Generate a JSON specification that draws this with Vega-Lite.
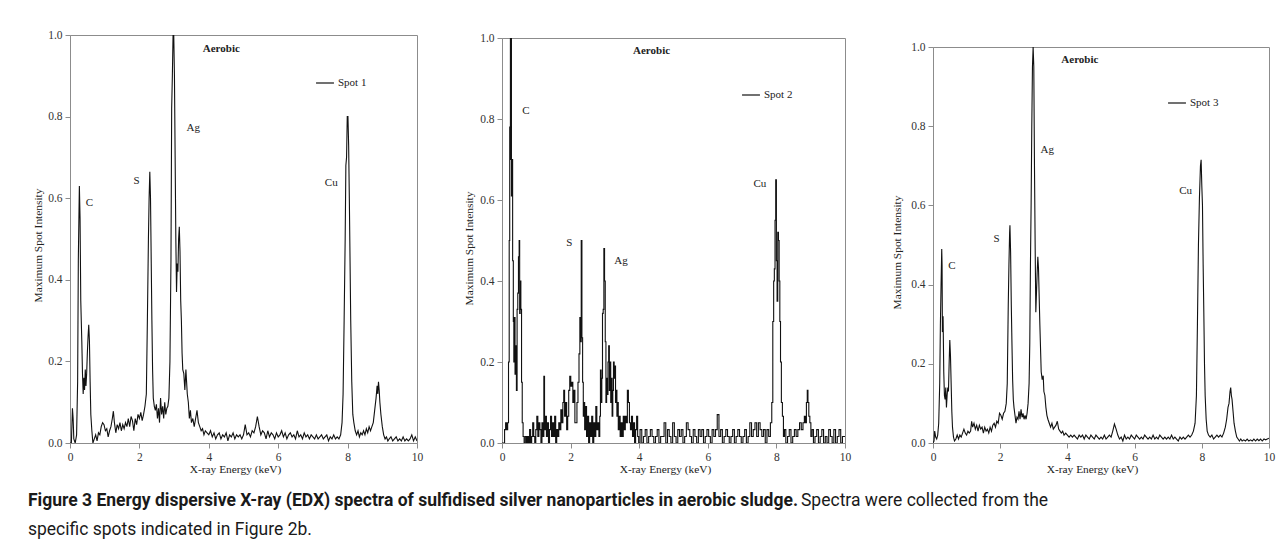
{
"$schema":"https://vega.github.io/schema/vega-lite/v6.json",
"background":"white",
"padding":{"left":27,"top":27,"right":3,"bottom":0},
"config":{
"view":{"stroke":"#8c8c8c","strokeWidth":1},
"axis":{"labelFont":"Liberation Serif","titleFont":"Liberation Serif","labelFontSize":11.5,"titleFontSize":11.4,"titleFontWeight":"normal","labelColor":"#333","titleColor":"#222","domainColor":"#8c8c8c","tickColor":"#8c8c8c","grid":false,"tickSize":5,"labelPadding":3,"labelFlush":false},
"axisX":{"titlePadding":1,"labelPadding":3},
"legend":{"symbolType":"stroke","symbolStrokeWidth":1.2,"symbolSize":320,"labelFont":"Liberation Serif","labelFontSize":11,"labelColor":"#222","padding":0,"labelOffset":3,"title":null}
},
"datasets":{
"labels":[
{"spot":"Spot 1","kind":"element","kev":0.56,"val":0.588,"label":"C"},
{"spot":"Spot 1","kind":"element","kev":1.92,"val":0.643,"label":"S"},
{"spot":"Spot 1","kind":"element","kev":3.55,"val":0.773,"label":"Ag"},
{"spot":"Spot 1","kind":"element","kev":7.53,"val":0.637,"label":"Cu"},
{"spot":"Spot 1","kind":"condition","kev":4.36,"val":0.966,"label":"Aerobic"},
{"spot":"Spot 2","kind":"element","kev":0.70,"val":0.819,"label":"C"},
{"spot":"Spot 2","kind":"element","kev":1.96,"val":0.493,"label":"S"},
{"spot":"Spot 2","kind":"element","kev":3.47,"val":0.449,"label":"Ag"},
{"spot":"Spot 2","kind":"element","kev":7.52,"val":0.639,"label":"Cu"},
{"spot":"Spot 2","kind":"condition","kev":4.36,"val":0.967,"label":"Aerobic"},
{"spot":"Spot 3","kind":"element","kev":0.56,"val":0.448,"label":"C"},
{"spot":"Spot 3","kind":"element","kev":1.89,"val":0.514,"label":"S"},
{"spot":"Spot 3","kind":"element","kev":3.40,"val":0.739,"label":"Ag"},
{"spot":"Spot 3","kind":"element","kev":7.52,"val":0.637,"label":"Cu"},
{"spot":"Spot 3","kind":"condition","kev":4.37,"val":0.966,"label":"Aerobic"}
],
"caption":[
{"part":"bold","text":"Figure 3 Energy dispersive X-ray (EDX) spectra of sulfidised silver nanoparticles in aerobic sludge."},
{"part":"normal","text":"Spectra were collected from the"},
{"part":"normal2","text":"specific spots indicated in Figure 2b."}
],
"spectra":[
{"spot":"Spot 1","kev":0.00,"val":0.0},{"spot":"Spot 1","kev":0.04,"val":0.0},{"spot":"Spot 1","kev":0.07,"val":0.085},{"spot":"Spot 1","kev":0.09,"val":0.06},{"spot":"Spot 1","kev":0.11,"val":0.01},{"spot":"Spot 1","kev":0.15,"val":0.0},{"spot":"Spot 1","kev":0.19,"val":0.02},{"spot":"Spot 1","kev":0.22,"val":0.15},{"spot":"Spot 1","kev":0.24,"val":0.45},{"spot":"Spot 1","kev":0.26,"val":0.57},{"spot":"Spot 1","kev":0.27,"val":0.63},{"spot":"Spot 1","kev":0.29,"val":0.55},{"spot":"Spot 1","kev":0.31,"val":0.35},{"spot":"Spot 1","kev":0.34,"val":0.25},{"spot":"Spot 1","kev":0.36,"val":0.17},{"spot":"Spot 1","kev":0.38,"val":0.12},{"spot":"Spot 1","kev":0.40,"val":0.16},{"spot":"Spot 1","kev":0.42,"val":0.13},{"spot":"Spot 1","kev":0.44,"val":0.18},{"spot":"Spot 1","kev":0.46,"val":0.14},{"spot":"Spot 1","kev":0.48,"val":0.17},{"spot":"Spot 1","kev":0.50,"val":0.22},{"spot":"Spot 1","kev":0.52,"val":0.26},{"spot":"Spot 1","kev":0.54,"val":0.29},{"spot":"Spot 1","kev":0.56,"val":0.25},{"spot":"Spot 1","kev":0.58,"val":0.15},{"spot":"Spot 1","kev":0.60,"val":0.07},{"spot":"Spot 1","kev":0.63,"val":0.03},{"spot":"Spot 1","kev":0.66,"val":0.0},{"spot":"Spot 1","kev":0.70,"val":0.01},{"spot":"Spot 1","kev":0.74,"val":0.02},{"spot":"Spot 1","kev":0.78,"val":0.005},{"spot":"Spot 1","kev":0.82,"val":0.025},{"spot":"Spot 1","kev":0.86,"val":0.02},{"spot":"Spot 1","kev":0.90,"val":0.04},{"spot":"Spot 1","kev":0.94,"val":0.05},{"spot":"Spot 1","kev":0.98,"val":0.045},{"spot":"Spot 1","kev":1.02,"val":0.03},{"spot":"Spot 1","kev":1.06,"val":0.035},{"spot":"Spot 1","kev":1.10,"val":0.015},{"spot":"Spot 1","kev":1.14,"val":0.03},{"spot":"Spot 1","kev":1.18,"val":0.04},{"spot":"Spot 1","kev":1.22,"val":0.06},{"spot":"Spot 1","kev":1.25,"val":0.078},{"spot":"Spot 1","kev":1.28,"val":0.05},{"spot":"Spot 1","kev":1.32,"val":0.025},{"spot":"Spot 1","kev":1.36,"val":0.045},{"spot":"Spot 1","kev":1.40,"val":0.035},{"spot":"Spot 1","kev":1.44,"val":0.05},{"spot":"Spot 1","kev":1.48,"val":0.03},{"spot":"Spot 1","kev":1.52,"val":0.045},{"spot":"Spot 1","kev":1.56,"val":0.035},{"spot":"Spot 1","kev":1.60,"val":0.05},{"spot":"Spot 1","kev":1.64,"val":0.04},{"spot":"Spot 1","kev":1.68,"val":0.06},{"spot":"Spot 1","kev":1.72,"val":0.04},{"spot":"Spot 1","kev":1.76,"val":0.065},{"spot":"Spot 1","kev":1.80,"val":0.055},{"spot":"Spot 1","kev":1.84,"val":0.03},{"spot":"Spot 1","kev":1.88,"val":0.06},{"spot":"Spot 1","kev":1.92,"val":0.045},{"spot":"Spot 1","kev":1.96,"val":0.07},{"spot":"Spot 1","kev":2.00,"val":0.06},{"spot":"Spot 1","kev":2.04,"val":0.075},{"spot":"Spot 1","kev":2.08,"val":0.055},{"spot":"Spot 1","kev":2.12,"val":0.07},{"spot":"Spot 1","kev":2.16,"val":0.09},{"spot":"Spot 1","kev":2.20,"val":0.12},{"spot":"Spot 1","kev":2.23,"val":0.3},{"spot":"Spot 1","kev":2.26,"val":0.5},{"spot":"Spot 1","kev":2.28,"val":0.6},{"spot":"Spot 1","kev":2.30,"val":0.665},{"spot":"Spot 1","kev":2.32,"val":0.6},{"spot":"Spot 1","kev":2.34,"val":0.45},{"spot":"Spot 1","kev":2.36,"val":0.3},{"spot":"Spot 1","kev":2.38,"val":0.18},{"spot":"Spot 1","kev":2.40,"val":0.11},{"spot":"Spot 1","kev":2.43,"val":0.09},{"spot":"Spot 1","kev":2.46,"val":0.08},{"spot":"Spot 1","kev":2.49,"val":0.095},{"spot":"Spot 1","kev":2.52,"val":0.06},{"spot":"Spot 1","kev":2.55,"val":0.085},{"spot":"Spot 1","kev":2.58,"val":0.05},{"spot":"Spot 1","kev":2.61,"val":0.11},{"spot":"Spot 1","kev":2.64,"val":0.07},{"spot":"Spot 1","kev":2.67,"val":0.09},{"spot":"Spot 1","kev":2.70,"val":0.06},{"spot":"Spot 1","kev":2.73,"val":0.1},{"spot":"Spot 1","kev":2.76,"val":0.07},{"spot":"Spot 1","kev":2.79,"val":0.085},{"spot":"Spot 1","kev":2.82,"val":0.09},{"spot":"Spot 1","kev":2.85,"val":0.11},{"spot":"Spot 1","kev":2.88,"val":0.2},{"spot":"Spot 1","kev":2.91,"val":0.45},{"spot":"Spot 1","kev":2.93,"val":0.82},{"spot":"Spot 1","kev":2.95,"val":0.9},{"spot":"Spot 1","kev":2.97,"val":1.0},{"spot":"Spot 1","kev":2.99,"val":1.0},{"spot":"Spot 1","kev":3.01,"val":0.9},{"spot":"Spot 1","kev":3.03,"val":0.7},{"spot":"Spot 1","kev":3.05,"val":0.5},{"spot":"Spot 1","kev":3.07,"val":0.37},{"spot":"Spot 1","kev":3.09,"val":0.44},{"spot":"Spot 1","kev":3.11,"val":0.42},{"spot":"Spot 1","kev":3.13,"val":0.5},{"spot":"Spot 1","kev":3.15,"val":0.53},{"spot":"Spot 1","kev":3.17,"val":0.47},{"spot":"Spot 1","kev":3.19,"val":0.35},{"spot":"Spot 1","kev":3.21,"val":0.3},{"spot":"Spot 1","kev":3.23,"val":0.22},{"spot":"Spot 1","kev":3.25,"val":0.18},{"spot":"Spot 1","kev":3.28,"val":0.17},{"spot":"Spot 1","kev":3.31,"val":0.13},{"spot":"Spot 1","kev":3.34,"val":0.18},{"spot":"Spot 1","kev":3.36,"val":0.15},{"spot":"Spot 1","kev":3.38,"val":0.12},{"spot":"Spot 1","kev":3.41,"val":0.1},{"spot":"Spot 1","kev":3.44,"val":0.06},{"spot":"Spot 1","kev":3.47,"val":0.08},{"spot":"Spot 1","kev":3.50,"val":0.05},{"spot":"Spot 1","kev":3.54,"val":0.06},{"spot":"Spot 1","kev":3.58,"val":0.04},{"spot":"Spot 1","kev":3.62,"val":0.06},{"spot":"Spot 1","kev":3.66,"val":0.08},{"spot":"Spot 1","kev":3.70,"val":0.05},{"spot":"Spot 1","kev":3.74,"val":0.04},{"spot":"Spot 1","kev":3.78,"val":0.03},{"spot":"Spot 1","kev":3.82,"val":0.035},{"spot":"Spot 1","kev":3.86,"val":0.02},{"spot":"Spot 1","kev":3.90,"val":0.03},{"spot":"Spot 1","kev":3.95,"val":0.025},{"spot":"Spot 1","kev":4.00,"val":0.02},{"spot":"Spot 1","kev":4.05,"val":0.03},{"spot":"Spot 1","kev":4.10,"val":0.015},{"spot":"Spot 1","kev":4.15,"val":0.025},{"spot":"Spot 1","kev":4.20,"val":0.01},{"spot":"Spot 1","kev":4.25,"val":0.02},{"spot":"Spot 1","kev":4.30,"val":0.025},{"spot":"Spot 1","kev":4.35,"val":0.01},{"spot":"Spot 1","kev":4.40,"val":0.02},{"spot":"Spot 1","kev":4.45,"val":0.015},{"spot":"Spot 1","kev":4.50,"val":0.025},{"spot":"Spot 1","kev":4.55,"val":0.005},{"spot":"Spot 1","kev":4.60,"val":0.02},{"spot":"Spot 1","kev":4.65,"val":0.015},{"spot":"Spot 1","kev":4.70,"val":0.025},{"spot":"Spot 1","kev":4.75,"val":0.01},{"spot":"Spot 1","kev":4.80,"val":0.02},{"spot":"Spot 1","kev":4.85,"val":0.015},{"spot":"Spot 1","kev":4.90,"val":0.02},{"spot":"Spot 1","kev":4.95,"val":0.01},{"spot":"Spot 1","kev":5.00,"val":0.02},{"spot":"Spot 1","kev":5.05,"val":0.045},{"spot":"Spot 1","kev":5.10,"val":0.02},{"spot":"Spot 1","kev":5.15,"val":0.025},{"spot":"Spot 1","kev":5.20,"val":0.015},{"spot":"Spot 1","kev":5.25,"val":0.03},{"spot":"Spot 1","kev":5.30,"val":0.025},{"spot":"Spot 1","kev":5.35,"val":0.04},{"spot":"Spot 1","kev":5.40,"val":0.065},{"spot":"Spot 1","kev":5.45,"val":0.04},{"spot":"Spot 1","kev":5.50,"val":0.02},{"spot":"Spot 1","kev":5.55,"val":0.03},{"spot":"Spot 1","kev":5.60,"val":0.025},{"spot":"Spot 1","kev":5.65,"val":0.01},{"spot":"Spot 1","kev":5.70,"val":0.03},{"spot":"Spot 1","kev":5.75,"val":0.015},{"spot":"Spot 1","kev":5.80,"val":0.025},{"spot":"Spot 1","kev":5.85,"val":0.02},{"spot":"Spot 1","kev":5.90,"val":0.01},{"spot":"Spot 1","kev":5.95,"val":0.025},{"spot":"Spot 1","kev":6.00,"val":0.015},{"spot":"Spot 1","kev":6.05,"val":0.02},{"spot":"Spot 1","kev":6.10,"val":0.03},{"spot":"Spot 1","kev":6.15,"val":0.015},{"spot":"Spot 1","kev":6.20,"val":0.025},{"spot":"Spot 1","kev":6.25,"val":0.01},{"spot":"Spot 1","kev":6.30,"val":0.02},{"spot":"Spot 1","kev":6.35,"val":0.025},{"spot":"Spot 1","kev":6.40,"val":0.015},{"spot":"Spot 1","kev":6.45,"val":0.02},{"spot":"Spot 1","kev":6.50,"val":0.01},{"spot":"Spot 1","kev":6.55,"val":0.03},{"spot":"Spot 1","kev":6.60,"val":0.015},{"spot":"Spot 1","kev":6.65,"val":0.02},{"spot":"Spot 1","kev":6.70,"val":0.01},{"spot":"Spot 1","kev":6.75,"val":0.025},{"spot":"Spot 1","kev":6.80,"val":0.015},{"spot":"Spot 1","kev":6.85,"val":0.02},{"spot":"Spot 1","kev":6.90,"val":0.01},{"spot":"Spot 1","kev":6.95,"val":0.02},{"spot":"Spot 1","kev":7.00,"val":0.015},{"spot":"Spot 1","kev":7.05,"val":0.01},{"spot":"Spot 1","kev":7.10,"val":0.02},{"spot":"Spot 1","kev":7.15,"val":0.01},{"spot":"Spot 1","kev":7.20,"val":0.015},{"spot":"Spot 1","kev":7.25,"val":0.02},{"spot":"Spot 1","kev":7.30,"val":0.01},{"spot":"Spot 1","kev":7.35,"val":0.015},{"spot":"Spot 1","kev":7.40,"val":0.02},{"spot":"Spot 1","kev":7.45,"val":0.005},{"spot":"Spot 1","kev":7.50,"val":0.015},{"spot":"Spot 1","kev":7.55,"val":0.01},{"spot":"Spot 1","kev":7.60,"val":0.02},{"spot":"Spot 1","kev":7.65,"val":0.01},{"spot":"Spot 1","kev":7.70,"val":0.015},{"spot":"Spot 1","kev":7.75,"val":0.01},{"spot":"Spot 1","kev":7.80,"val":0.02},{"spot":"Spot 1","kev":7.84,"val":0.05},{"spot":"Spot 1","kev":7.87,"val":0.12},{"spot":"Spot 1","kev":7.90,"val":0.3},{"spot":"Spot 1","kev":7.93,"val":0.5},{"spot":"Spot 1","kev":7.95,"val":0.68},{"spot":"Spot 1","kev":7.97,"val":0.7},{"spot":"Spot 1","kev":7.99,"val":0.8},{"spot":"Spot 1","kev":8.01,"val":0.8},{"spot":"Spot 1","kev":8.03,"val":0.73},{"spot":"Spot 1","kev":8.05,"val":0.6},{"spot":"Spot 1","kev":8.07,"val":0.45},{"spot":"Spot 1","kev":8.09,"val":0.3},{"spot":"Spot 1","kev":8.12,"val":0.15},{"spot":"Spot 1","kev":8.15,"val":0.07},{"spot":"Spot 1","kev":8.18,"val":0.05},{"spot":"Spot 1","kev":8.22,"val":0.03},{"spot":"Spot 1","kev":8.26,"val":0.02},{"spot":"Spot 1","kev":8.30,"val":0.03},{"spot":"Spot 1","kev":8.34,"val":0.015},{"spot":"Spot 1","kev":8.38,"val":0.025},{"spot":"Spot 1","kev":8.42,"val":0.02},{"spot":"Spot 1","kev":8.46,"val":0.03},{"spot":"Spot 1","kev":8.50,"val":0.02},{"spot":"Spot 1","kev":8.54,"val":0.035},{"spot":"Spot 1","kev":8.58,"val":0.025},{"spot":"Spot 1","kev":8.62,"val":0.04},{"spot":"Spot 1","kev":8.66,"val":0.03},{"spot":"Spot 1","kev":8.70,"val":0.04},{"spot":"Spot 1","kev":8.74,"val":0.05},{"spot":"Spot 1","kev":8.78,"val":0.08},{"spot":"Spot 1","kev":8.82,"val":0.11},{"spot":"Spot 1","kev":8.85,"val":0.14},{"spot":"Spot 1","kev":8.87,"val":0.12},{"spot":"Spot 1","kev":8.89,"val":0.15},{"spot":"Spot 1","kev":8.91,"val":0.13},{"spot":"Spot 1","kev":8.93,"val":0.1},{"spot":"Spot 1","kev":8.96,"val":0.07},{"spot":"Spot 1","kev":9.00,"val":0.04},{"spot":"Spot 1","kev":9.04,"val":0.02},{"spot":"Spot 1","kev":9.08,"val":0.01},{"spot":"Spot 1","kev":9.12,"val":0.015},{"spot":"Spot 1","kev":9.16,"val":0.005},{"spot":"Spot 1","kev":9.20,"val":0.01},{"spot":"Spot 1","kev":9.25,"val":0.015},{"spot":"Spot 1","kev":9.30,"val":0.005},{"spot":"Spot 1","kev":9.35,"val":0.01},{"spot":"Spot 1","kev":9.40,"val":0.015},{"spot":"Spot 1","kev":9.45,"val":0.005},{"spot":"Spot 1","kev":9.50,"val":0.01},{"spot":"Spot 1","kev":9.55,"val":0.005},{"spot":"Spot 1","kev":9.60,"val":0.015},{"spot":"Spot 1","kev":9.65,"val":0.005},{"spot":"Spot 1","kev":9.70,"val":0.01},{"spot":"Spot 1","kev":9.75,"val":0.005},{"spot":"Spot 1","kev":9.80,"val":0.01},{"spot":"Spot 1","kev":9.85,"val":0.02},{"spot":"Spot 1","kev":9.90,"val":0.005},{"spot":"Spot 1","kev":9.95,"val":0.015},{"spot":"Spot 1","kev":10.00,"val":0.005},
{"spot":"Spot 2","kev":0.00,"val":0},{"spot":"Spot 2","kev":0.06,"val":0},{"spot":"Spot 2","kev":0.09,"val":0.033},{"spot":"Spot 2","kev":0.12,"val":0.05},{"spot":"Spot 2","kev":0.15,"val":0.033},{"spot":"Spot 2","kev":0.18,"val":0.05},{"spot":"Spot 2","kev":0.20,"val":0.2},{"spot":"Spot 2","kev":0.22,"val":0.5},{"spot":"Spot 2","kev":0.23,"val":0.78},{"spot":"Spot 2","kev":0.24,"val":0.7},{"spot":"Spot 2","kev":0.25,"val":1.0},{"spot":"Spot 2","kev":0.27,"val":1.0},{"spot":"Spot 2","kev":0.28,"val":0.61},{"spot":"Spot 2","kev":0.30,"val":0.7},{"spot":"Spot 2","kev":0.32,"val":0.45},{"spot":"Spot 2","kev":0.34,"val":0.3},{"spot":"Spot 2","kev":0.35,"val":0.2},{"spot":"Spot 2","kev":0.37,"val":0.31},{"spot":"Spot 2","kev":0.39,"val":0.17},{"spot":"Spot 2","kev":0.41,"val":0.24},{"spot":"Spot 2","kev":0.43,"val":0.13},{"spot":"Spot 2","kev":0.45,"val":0.33},{"spot":"Spot 2","kev":0.47,"val":0.37},{"spot":"Spot 2","kev":0.49,"val":0.46},{"spot":"Spot 2","kev":0.51,"val":0.5},{"spot":"Spot 2","kev":0.52,"val":0.32},{"spot":"Spot 2","kev":0.54,"val":0.4},{"spot":"Spot 2","kev":0.56,"val":0.33},{"spot":"Spot 2","kev":0.58,"val":0.15},{"spot":"Spot 2","kev":0.60,"val":0.05},{"spot":"Spot 2","kev":0.63,"val":0.016},{"spot":"Spot 2","kev":0.66,"val":0},{"spot":"Spot 2","kev":0.70,"val":0.016},{"spot":"Spot 2","kev":0.73,"val":0},{"spot":"Spot 2","kev":0.76,"val":0.016},{"spot":"Spot 2","kev":0.79,"val":0},{"spot":"Spot 2","kev":0.82,"val":0.033},{"spot":"Spot 2","kev":0.85,"val":0},{"spot":"Spot 2","kev":0.88,"val":0.016},{"spot":"Spot 2","kev":0.91,"val":0.05},{"spot":"Spot 2","kev":0.94,"val":0.016},{"spot":"Spot 2","kev":0.97,"val":0},{"spot":"Spot 2","kev":1.00,"val":0.033},{"spot":"Spot 2","kev":1.03,"val":0.066},{"spot":"Spot 2","kev":1.06,"val":0.016},{"spot":"Spot 2","kev":1.09,"val":0.05},{"spot":"Spot 2","kev":1.12,"val":0.033},{"spot":"Spot 2","kev":1.15,"val":0},{"spot":"Spot 2","kev":1.18,"val":0.05},{"spot":"Spot 2","kev":1.21,"val":0.016},{"spot":"Spot 2","kev":1.23,"val":0.165},{"spot":"Spot 2","kev":1.25,"val":0.033},{"spot":"Spot 2","kev":1.28,"val":0.066},{"spot":"Spot 2","kev":1.31,"val":0.016},{"spot":"Spot 2","kev":1.34,"val":0.05},{"spot":"Spot 2","kev":1.37,"val":0},{"spot":"Spot 2","kev":1.40,"val":0.033},{"spot":"Spot 2","kev":1.43,"val":0.066},{"spot":"Spot 2","kev":1.46,"val":0.016},{"spot":"Spot 2","kev":1.49,"val":0.05},{"spot":"Spot 2","kev":1.52,"val":0.016},{"spot":"Spot 2","kev":1.55,"val":0.066},{"spot":"Spot 2","kev":1.58,"val":0},{"spot":"Spot 2","kev":1.61,"val":0.033},{"spot":"Spot 2","kev":1.64,"val":0.016},{"spot":"Spot 2","kev":1.67,"val":0.05},{"spot":"Spot 2","kev":1.70,"val":0.033},{"spot":"Spot 2","kev":1.73,"val":0.082},{"spot":"Spot 2","kev":1.76,"val":0.05},{"spot":"Spot 2","kev":1.79,"val":0.1},{"spot":"Spot 2","kev":1.81,"val":0.13},{"spot":"Spot 2","kev":1.84,"val":0.066},{"spot":"Spot 2","kev":1.87,"val":0.1},{"spot":"Spot 2","kev":1.90,"val":0.033},{"spot":"Spot 2","kev":1.93,"val":0.066},{"spot":"Spot 2","kev":1.96,"val":0.13},{"spot":"Spot 2","kev":1.99,"val":0.165},{"spot":"Spot 2","kev":2.02,"val":0.14},{"spot":"Spot 2","kev":2.05,"val":0.15},{"spot":"Spot 2","kev":2.08,"val":0.1},{"spot":"Spot 2","kev":2.11,"val":0.13},{"spot":"Spot 2","kev":2.14,"val":0.05},{"spot":"Spot 2","kev":2.17,"val":0.05},{"spot":"Spot 2","kev":2.20,"val":0.1},{"spot":"Spot 2","kev":2.23,"val":0.15},{"spot":"Spot 2","kev":2.26,"val":0.22},{"spot":"Spot 2","kev":2.28,"val":0.31},{"spot":"Spot 2","kev":2.30,"val":0.25},{"spot":"Spot 2","kev":2.32,"val":0.5},{"spot":"Spot 2","kev":2.34,"val":0.26},{"spot":"Spot 2","kev":2.36,"val":0.15},{"spot":"Spot 2","kev":2.38,"val":0.066},{"spot":"Spot 2","kev":2.40,"val":0.1},{"spot":"Spot 2","kev":2.42,"val":0.033},{"spot":"Spot 2","kev":2.45,"val":0.09},{"spot":"Spot 2","kev":2.48,"val":0.016},{"spot":"Spot 2","kev":2.51,"val":0.066},{"spot":"Spot 2","kev":2.54,"val":0},{"spot":"Spot 2","kev":2.57,"val":0.05},{"spot":"Spot 2","kev":2.60,"val":0.016},{"spot":"Spot 2","kev":2.63,"val":0.066},{"spot":"Spot 2","kev":2.66,"val":0},{"spot":"Spot 2","kev":2.69,"val":0.05},{"spot":"Spot 2","kev":2.72,"val":0.016},{"spot":"Spot 2","kev":2.75,"val":0.09},{"spot":"Spot 2","kev":2.78,"val":0.033},{"spot":"Spot 2","kev":2.81,"val":0.05},{"spot":"Spot 2","kev":2.84,"val":0.016},{"spot":"Spot 2","kev":2.86,"val":0.066},{"spot":"Spot 2","kev":2.88,"val":0.18},{"spot":"Spot 2","kev":2.90,"val":0.1},{"spot":"Spot 2","kev":2.92,"val":0.16},{"spot":"Spot 2","kev":2.94,"val":0.32},{"spot":"Spot 2","kev":2.96,"val":0.33},{"spot":"Spot 2","kev":2.98,"val":0.48},{"spot":"Spot 2","kev":3.00,"val":0.4},{"spot":"Spot 2","kev":3.02,"val":0.25},{"spot":"Spot 2","kev":3.04,"val":0.1},{"spot":"Spot 2","kev":3.06,"val":0.16},{"spot":"Spot 2","kev":3.08,"val":0.12},{"spot":"Spot 2","kev":3.10,"val":0.2},{"spot":"Spot 2","kev":3.12,"val":0.24},{"spot":"Spot 2","kev":3.14,"val":0.13},{"spot":"Spot 2","kev":3.16,"val":0.2},{"spot":"Spot 2","kev":3.18,"val":0.1},{"spot":"Spot 2","kev":3.20,"val":0.16},{"spot":"Spot 2","kev":3.22,"val":0.066},{"spot":"Spot 2","kev":3.24,"val":0.13},{"spot":"Spot 2","kev":3.26,"val":0.2},{"spot":"Spot 2","kev":3.28,"val":0.16},{"spot":"Spot 2","kev":3.30,"val":0.19},{"spot":"Spot 2","kev":3.32,"val":0.1},{"spot":"Spot 2","kev":3.34,"val":0.13},{"spot":"Spot 2","kev":3.36,"val":0.066},{"spot":"Spot 2","kev":3.38,"val":0.1},{"spot":"Spot 2","kev":3.40,"val":0.033},{"spot":"Spot 2","kev":3.43,"val":0.066},{"spot":"Spot 2","kev":3.46,"val":0.016},{"spot":"Spot 2","kev":3.49,"val":0.05},{"spot":"Spot 2","kev":3.52,"val":0.016},{"spot":"Spot 2","kev":3.55,"val":0.066},{"spot":"Spot 2","kev":3.58,"val":0.033},{"spot":"Spot 2","kev":3.61,"val":0.066},{"spot":"Spot 2","kev":3.64,"val":0.05},{"spot":"Spot 2","kev":3.67,"val":0.13},{"spot":"Spot 2","kev":3.70,"val":0.1},{"spot":"Spot 2","kev":3.73,"val":0.05},{"spot":"Spot 2","kev":3.76,"val":0.033},{"spot":"Spot 2","kev":3.79,"val":0.066},{"spot":"Spot 2","kev":3.82,"val":0.016},{"spot":"Spot 2","kev":3.85,"val":0.05},{"spot":"Spot 2","kev":3.88,"val":0},{"spot":"Spot 2","kev":3.91,"val":0.033},{"spot":"Spot 2","kev":3.94,"val":0.066},{"spot":"Spot 2","kev":3.97,"val":0.016},{"spot":"Spot 2","kev":4.00,"val":0},{"spot":"Spot 2","kev":4.05,"val":0.033},{"spot":"Spot 2","kev":4.10,"val":0},{"spot":"Spot 2","kev":4.15,"val":0.016},{"spot":"Spot 2","kev":4.20,"val":0.033},{"spot":"Spot 2","kev":4.25,"val":0},{"spot":"Spot 2","kev":4.30,"val":0.016},{"spot":"Spot 2","kev":4.35,"val":0.033},{"spot":"Spot 2","kev":4.40,"val":0.016},{"spot":"Spot 2","kev":4.45,"val":0},{"spot":"Spot 2","kev":4.50,"val":0.016},{"spot":"Spot 2","kev":4.55,"val":0.033},{"spot":"Spot 2","kev":4.60,"val":0},{"spot":"Spot 2","kev":4.65,"val":0.016},{"spot":"Spot 2","kev":4.70,"val":0.016},{"spot":"Spot 2","kev":4.75,"val":0.05},{"spot":"Spot 2","kev":4.80,"val":0},{"spot":"Spot 2","kev":4.85,"val":0.033},{"spot":"Spot 2","kev":4.90,"val":0.016},{"spot":"Spot 2","kev":4.95,"val":0},{"spot":"Spot 2","kev":5.00,"val":0.05},{"spot":"Spot 2","kev":5.05,"val":0.016},{"spot":"Spot 2","kev":5.10,"val":0},{"spot":"Spot 2","kev":5.15,"val":0.033},{"spot":"Spot 2","kev":5.20,"val":0.016},{"spot":"Spot 2","kev":5.25,"val":0.033},{"spot":"Spot 2","kev":5.30,"val":0},{"spot":"Spot 2","kev":5.35,"val":0.016},{"spot":"Spot 2","kev":5.40,"val":0.05},{"spot":"Spot 2","kev":5.45,"val":0.033},{"spot":"Spot 2","kev":5.50,"val":0.016},{"spot":"Spot 2","kev":5.55,"val":0},{"spot":"Spot 2","kev":5.60,"val":0.033},{"spot":"Spot 2","kev":5.65,"val":0.016},{"spot":"Spot 2","kev":5.70,"val":0},{"spot":"Spot 2","kev":5.75,"val":0.033},{"spot":"Spot 2","kev":5.80,"val":0.016},{"spot":"Spot 2","kev":5.85,"val":0.033},{"spot":"Spot 2","kev":5.90,"val":0},{"spot":"Spot 2","kev":5.95,"val":0.016},{"spot":"Spot 2","kev":6.00,"val":0.033},{"spot":"Spot 2","kev":6.05,"val":0.016},{"spot":"Spot 2","kev":6.10,"val":0},{"spot":"Spot 2","kev":6.15,"val":0.033},{"spot":"Spot 2","kev":6.20,"val":0.016},{"spot":"Spot 2","kev":6.25,"val":0.033},{"spot":"Spot 2","kev":6.30,"val":0.07},{"spot":"Spot 2","kev":6.35,"val":0.016},{"spot":"Spot 2","kev":6.40,"val":0.033},{"spot":"Spot 2","kev":6.45,"val":0},{"spot":"Spot 2","kev":6.50,"val":0.016},{"spot":"Spot 2","kev":6.55,"val":0.033},{"spot":"Spot 2","kev":6.60,"val":0.016},{"spot":"Spot 2","kev":6.65,"val":0},{"spot":"Spot 2","kev":6.70,"val":0.016},{"spot":"Spot 2","kev":6.75,"val":0.033},{"spot":"Spot 2","kev":6.80,"val":0},{"spot":"Spot 2","kev":6.85,"val":0.016},{"spot":"Spot 2","kev":6.90,"val":0.033},{"spot":"Spot 2","kev":6.95,"val":0.016},{"spot":"Spot 2","kev":7.00,"val":0},{"spot":"Spot 2","kev":7.05,"val":0.016},{"spot":"Spot 2","kev":7.10,"val":0.033},{"spot":"Spot 2","kev":7.15,"val":0},{"spot":"Spot 2","kev":7.20,"val":0.016},{"spot":"Spot 2","kev":7.25,"val":0.05},{"spot":"Spot 2","kev":7.30,"val":0.016},{"spot":"Spot 2","kev":7.35,"val":0.033},{"spot":"Spot 2","kev":7.40,"val":0.05},{"spot":"Spot 2","kev":7.45,"val":0.016},{"spot":"Spot 2","kev":7.50,"val":0.05},{"spot":"Spot 2","kev":7.55,"val":0.033},{"spot":"Spot 2","kev":7.60,"val":0.016},{"spot":"Spot 2","kev":7.65,"val":0.033},{"spot":"Spot 2","kev":7.70,"val":0},{"spot":"Spot 2","kev":7.75,"val":0.033},{"spot":"Spot 2","kev":7.80,"val":0.016},{"spot":"Spot 2","kev":7.85,"val":0.05},{"spot":"Spot 2","kev":7.88,"val":0.1},{"spot":"Spot 2","kev":7.91,"val":0.3},{"spot":"Spot 2","kev":7.93,"val":0.4},{"spot":"Spot 2","kev":7.95,"val":0.43},{"spot":"Spot 2","kev":7.97,"val":0.55},{"spot":"Spot 2","kev":7.99,"val":0.65},{"spot":"Spot 2","kev":8.01,"val":0.45},{"spot":"Spot 2","kev":8.03,"val":0.35},{"spot":"Spot 2","kev":8.05,"val":0.52},{"spot":"Spot 2","kev":8.07,"val":0.5},{"spot":"Spot 2","kev":8.09,"val":0.4},{"spot":"Spot 2","kev":8.11,"val":0.3},{"spot":"Spot 2","kev":8.13,"val":0.2},{"spot":"Spot 2","kev":8.16,"val":0.1},{"spot":"Spot 2","kev":8.19,"val":0.066},{"spot":"Spot 2","kev":8.22,"val":0.016},{"spot":"Spot 2","kev":8.25,"val":0.033},{"spot":"Spot 2","kev":8.30,"val":0},{"spot":"Spot 2","kev":8.35,"val":0.016},{"spot":"Spot 2","kev":8.40,"val":0.033},{"spot":"Spot 2","kev":8.45,"val":0},{"spot":"Spot 2","kev":8.50,"val":0.016},{"spot":"Spot 2","kev":8.55,"val":0.033},{"spot":"Spot 2","kev":8.60,"val":0.016},{"spot":"Spot 2","kev":8.65,"val":0.033},{"spot":"Spot 2","kev":8.70,"val":0.05},{"spot":"Spot 2","kev":8.75,"val":0.033},{"spot":"Spot 2","kev":8.80,"val":0.05},{"spot":"Spot 2","kev":8.83,"val":0.066},{"spot":"Spot 2","kev":8.86,"val":0.05},{"spot":"Spot 2","kev":8.89,"val":0.1},{"spot":"Spot 2","kev":8.91,"val":0.13},{"spot":"Spot 2","kev":8.93,"val":0.1},{"spot":"Spot 2","kev":8.96,"val":0.066},{"spot":"Spot 2","kev":8.99,"val":0.05},{"spot":"Spot 2","kev":9.02,"val":0.016},{"spot":"Spot 2","kev":9.06,"val":0.033},{"spot":"Spot 2","kev":9.10,"val":0},{"spot":"Spot 2","kev":9.15,"val":0.016},{"spot":"Spot 2","kev":9.20,"val":0.033},{"spot":"Spot 2","kev":9.25,"val":0},{"spot":"Spot 2","kev":9.30,"val":0.016},{"spot":"Spot 2","kev":9.35,"val":0.033},{"spot":"Spot 2","kev":9.40,"val":0},{"spot":"Spot 2","kev":9.45,"val":0.016},{"spot":"Spot 2","kev":9.50,"val":0},{"spot":"Spot 2","kev":9.55,"val":0.033},{"spot":"Spot 2","kev":9.60,"val":0.016},{"spot":"Spot 2","kev":9.65,"val":0},{"spot":"Spot 2","kev":9.70,"val":0.033},{"spot":"Spot 2","kev":9.75,"val":0},{"spot":"Spot 2","kev":9.80,"val":0.016},{"spot":"Spot 2","kev":9.85,"val":0.033},{"spot":"Spot 2","kev":9.90,"val":0},{"spot":"Spot 2","kev":9.95,"val":0.016},{"spot":"Spot 2","kev":10.00,"val":0.016},
{"spot":"Spot 3","kev":0.00,"val":0},{"spot":"Spot 3","kev":0.03,"val":0.005},{"spot":"Spot 3","kev":0.05,"val":0.03},{"spot":"Spot 3","kev":0.08,"val":0.015},{"spot":"Spot 3","kev":0.11,"val":0.01},{"spot":"Spot 3","kev":0.14,"val":0.02},{"spot":"Spot 3","kev":0.17,"val":0.05},{"spot":"Spot 3","kev":0.20,"val":0.15},{"spot":"Spot 3","kev":0.22,"val":0.3},{"spot":"Spot 3","kev":0.24,"val":0.4},{"spot":"Spot 3","kev":0.26,"val":0.49},{"spot":"Spot 3","kev":0.27,"val":0.45},{"spot":"Spot 3","kev":0.28,"val":0.28},{"spot":"Spot 3","kev":0.30,"val":0.32},{"spot":"Spot 3","kev":0.32,"val":0.18},{"spot":"Spot 3","kev":0.34,"val":0.12},{"spot":"Spot 3","kev":0.36,"val":0.11},{"spot":"Spot 3","kev":0.38,"val":0.14},{"spot":"Spot 3","kev":0.40,"val":0.09},{"spot":"Spot 3","kev":0.42,"val":0.12},{"spot":"Spot 3","kev":0.44,"val":0.14},{"spot":"Spot 3","kev":0.46,"val":0.13},{"spot":"Spot 3","kev":0.48,"val":0.2},{"spot":"Spot 3","kev":0.50,"val":0.26},{"spot":"Spot 3","kev":0.52,"val":0.22},{"spot":"Spot 3","kev":0.54,"val":0.15},{"spot":"Spot 3","kev":0.56,"val":0.08},{"spot":"Spot 3","kev":0.58,"val":0.04},{"spot":"Spot 3","kev":0.61,"val":0.015},{"spot":"Spot 3","kev":0.64,"val":0.005},{"spot":"Spot 3","kev":0.68,"val":0.01},{"spot":"Spot 3","kev":0.72,"val":0.02},{"spot":"Spot 3","kev":0.76,"val":0.01},{"spot":"Spot 3","kev":0.80,"val":0.02},{"spot":"Spot 3","kev":0.84,"val":0.015},{"spot":"Spot 3","kev":0.88,"val":0.025},{"spot":"Spot 3","kev":0.92,"val":0.035},{"spot":"Spot 3","kev":0.96,"val":0.025},{"spot":"Spot 3","kev":1.00,"val":0.02},{"spot":"Spot 3","kev":1.04,"val":0.03},{"spot":"Spot 3","kev":1.08,"val":0.025},{"spot":"Spot 3","kev":1.12,"val":0.03},{"spot":"Spot 3","kev":1.15,"val":0.055},{"spot":"Spot 3","kev":1.18,"val":0.04},{"spot":"Spot 3","kev":1.22,"val":0.05},{"spot":"Spot 3","kev":1.26,"val":0.035},{"spot":"Spot 3","kev":1.30,"val":0.045},{"spot":"Spot 3","kev":1.34,"val":0.03},{"spot":"Spot 3","kev":1.38,"val":0.045},{"spot":"Spot 3","kev":1.42,"val":0.035},{"spot":"Spot 3","kev":1.46,"val":0.04},{"spot":"Spot 3","kev":1.50,"val":0.025},{"spot":"Spot 3","kev":1.54,"val":0.04},{"spot":"Spot 3","kev":1.58,"val":0.03},{"spot":"Spot 3","kev":1.62,"val":0.035},{"spot":"Spot 3","kev":1.66,"val":0.025},{"spot":"Spot 3","kev":1.70,"val":0.04},{"spot":"Spot 3","kev":1.74,"val":0.03},{"spot":"Spot 3","kev":1.78,"val":0.045},{"spot":"Spot 3","kev":1.82,"val":0.05},{"spot":"Spot 3","kev":1.86,"val":0.04},{"spot":"Spot 3","kev":1.90,"val":0.055},{"spot":"Spot 3","kev":1.94,"val":0.05},{"spot":"Spot 3","kev":1.98,"val":0.075},{"spot":"Spot 3","kev":2.02,"val":0.07},{"spot":"Spot 3","kev":2.06,"val":0.06},{"spot":"Spot 3","kev":2.10,"val":0.075},{"spot":"Spot 3","kev":2.14,"val":0.08},{"spot":"Spot 3","kev":2.18,"val":0.1},{"spot":"Spot 3","kev":2.21,"val":0.15},{"spot":"Spot 3","kev":2.24,"val":0.35},{"spot":"Spot 3","kev":2.26,"val":0.45},{"spot":"Spot 3","kev":2.28,"val":0.53},{"spot":"Spot 3","kev":2.29,"val":0.55},{"spot":"Spot 3","kev":2.31,"val":0.48},{"spot":"Spot 3","kev":2.33,"val":0.35},{"spot":"Spot 3","kev":2.35,"val":0.25},{"spot":"Spot 3","kev":2.37,"val":0.16},{"spot":"Spot 3","kev":2.39,"val":0.11},{"spot":"Spot 3","kev":2.41,"val":0.09},{"spot":"Spot 3","kev":2.44,"val":0.07},{"spot":"Spot 3","kev":2.47,"val":0.05},{"spot":"Spot 3","kev":2.50,"val":0.065},{"spot":"Spot 3","kev":2.53,"val":0.06},{"spot":"Spot 3","kev":2.56,"val":0.08},{"spot":"Spot 3","kev":2.59,"val":0.06},{"spot":"Spot 3","kev":2.62,"val":0.085},{"spot":"Spot 3","kev":2.65,"val":0.065},{"spot":"Spot 3","kev":2.68,"val":0.075},{"spot":"Spot 3","kev":2.71,"val":0.06},{"spot":"Spot 3","kev":2.74,"val":0.07},{"spot":"Spot 3","kev":2.77,"val":0.06},{"spot":"Spot 3","kev":2.80,"val":0.075},{"spot":"Spot 3","kev":2.83,"val":0.1},{"spot":"Spot 3","kev":2.86,"val":0.15},{"spot":"Spot 3","kev":2.88,"val":0.25},{"spot":"Spot 3","kev":2.90,"val":0.45},{"spot":"Spot 3","kev":2.92,"val":0.6},{"spot":"Spot 3","kev":2.94,"val":0.8},{"spot":"Spot 3","kev":2.96,"val":0.95},{"spot":"Spot 3","kev":2.98,"val":1.0},{"spot":"Spot 3","kev":3.00,"val":0.95},{"spot":"Spot 3","kev":3.02,"val":0.7},{"spot":"Spot 3","kev":3.04,"val":0.5},{"spot":"Spot 3","kev":3.06,"val":0.33},{"spot":"Spot 3","kev":3.08,"val":0.38},{"spot":"Spot 3","kev":3.10,"val":0.43},{"spot":"Spot 3","kev":3.12,"val":0.47},{"spot":"Spot 3","kev":3.14,"val":0.44},{"spot":"Spot 3","kev":3.16,"val":0.37},{"spot":"Spot 3","kev":3.18,"val":0.3},{"spot":"Spot 3","kev":3.20,"val":0.24},{"spot":"Spot 3","kev":3.22,"val":0.18},{"spot":"Spot 3","kev":3.25,"val":0.16},{"spot":"Spot 3","kev":3.28,"val":0.17},{"spot":"Spot 3","kev":3.30,"val":0.13},{"spot":"Spot 3","kev":3.33,"val":0.12},{"spot":"Spot 3","kev":3.36,"val":0.09},{"spot":"Spot 3","kev":3.39,"val":0.07},{"spot":"Spot 3","kev":3.42,"val":0.06},{"spot":"Spot 3","kev":3.46,"val":0.05},{"spot":"Spot 3","kev":3.50,"val":0.04},{"spot":"Spot 3","kev":3.54,"val":0.05},{"spot":"Spot 3","kev":3.58,"val":0.035},{"spot":"Spot 3","kev":3.62,"val":0.04},{"spot":"Spot 3","kev":3.66,"val":0.045},{"spot":"Spot 3","kev":3.70,"val":0.055},{"spot":"Spot 3","kev":3.74,"val":0.035},{"spot":"Spot 3","kev":3.78,"val":0.03},{"spot":"Spot 3","kev":3.82,"val":0.025},{"spot":"Spot 3","kev":3.86,"val":0.03},{"spot":"Spot 3","kev":3.90,"val":0.02},{"spot":"Spot 3","kev":3.95,"val":0.025},{"spot":"Spot 3","kev":4.00,"val":0.02},{"spot":"Spot 3","kev":4.05,"val":0.015},{"spot":"Spot 3","kev":4.10,"val":0.02},{"spot":"Spot 3","kev":4.15,"val":0.015},{"spot":"Spot 3","kev":4.20,"val":0.02},{"spot":"Spot 3","kev":4.25,"val":0.015},{"spot":"Spot 3","kev":4.30,"val":0.01},{"spot":"Spot 3","kev":4.35,"val":0.02},{"spot":"Spot 3","kev":4.40,"val":0.015},{"spot":"Spot 3","kev":4.45,"val":0.02},{"spot":"Spot 3","kev":4.50,"val":0.01},{"spot":"Spot 3","kev":4.55,"val":0.02},{"spot":"Spot 3","kev":4.60,"val":0.015},{"spot":"Spot 3","kev":4.65,"val":0.01},{"spot":"Spot 3","kev":4.70,"val":0.02},{"spot":"Spot 3","kev":4.75,"val":0.015},{"spot":"Spot 3","kev":4.80,"val":0.01},{"spot":"Spot 3","kev":4.85,"val":0.02},{"spot":"Spot 3","kev":4.90,"val":0.015},{"spot":"Spot 3","kev":4.95,"val":0.01},{"spot":"Spot 3","kev":5.00,"val":0.015},{"spot":"Spot 3","kev":5.05,"val":0.01},{"spot":"Spot 3","kev":5.10,"val":0.02},{"spot":"Spot 3","kev":5.15,"val":0.01},{"spot":"Spot 3","kev":5.20,"val":0.015},{"spot":"Spot 3","kev":5.25,"val":0.02},{"spot":"Spot 3","kev":5.30,"val":0.015},{"spot":"Spot 3","kev":5.35,"val":0.03},{"spot":"Spot 3","kev":5.40,"val":0.048},{"spot":"Spot 3","kev":5.45,"val":0.035},{"spot":"Spot 3","kev":5.50,"val":0.02},{"spot":"Spot 3","kev":5.55,"val":0.01},{"spot":"Spot 3","kev":5.60,"val":0.015},{"spot":"Spot 3","kev":5.65,"val":0.005},{"spot":"Spot 3","kev":5.70,"val":0.02},{"spot":"Spot 3","kev":5.75,"val":0.01},{"spot":"Spot 3","kev":5.80,"val":0.015},{"spot":"Spot 3","kev":5.85,"val":0.01},{"spot":"Spot 3","kev":5.90,"val":0.02},{"spot":"Spot 3","kev":5.95,"val":0.015},{"spot":"Spot 3","kev":6.00,"val":0.01},{"spot":"Spot 3","kev":6.05,"val":0.02},{"spot":"Spot 3","kev":6.10,"val":0.015},{"spot":"Spot 3","kev":6.15,"val":0.01},{"spot":"Spot 3","kev":6.20,"val":0.015},{"spot":"Spot 3","kev":6.25,"val":0.01},{"spot":"Spot 3","kev":6.30,"val":0.02},{"spot":"Spot 3","kev":6.35,"val":0.015},{"spot":"Spot 3","kev":6.40,"val":0.01},{"spot":"Spot 3","kev":6.45,"val":0.015},{"spot":"Spot 3","kev":6.50,"val":0.01},{"spot":"Spot 3","kev":6.55,"val":0.02},{"spot":"Spot 3","kev":6.60,"val":0.01},{"spot":"Spot 3","kev":6.65,"val":0.015},{"spot":"Spot 3","kev":6.70,"val":0.01},{"spot":"Spot 3","kev":6.75,"val":0.02},{"spot":"Spot 3","kev":6.80,"val":0.015},{"spot":"Spot 3","kev":6.85,"val":0.01},{"spot":"Spot 3","kev":6.90,"val":0.015},{"spot":"Spot 3","kev":6.95,"val":0.01},{"spot":"Spot 3","kev":7.00,"val":0.015},{"spot":"Spot 3","kev":7.05,"val":0.01},{"spot":"Spot 3","kev":7.10,"val":0.02},{"spot":"Spot 3","kev":7.15,"val":0.01},{"spot":"Spot 3","kev":7.20,"val":0.015},{"spot":"Spot 3","kev":7.25,"val":0.01},{"spot":"Spot 3","kev":7.30,"val":0.005},{"spot":"Spot 3","kev":7.35,"val":0.015},{"spot":"Spot 3","kev":7.40,"val":0.01},{"spot":"Spot 3","kev":7.45,"val":0.015},{"spot":"Spot 3","kev":7.50,"val":0.01},{"spot":"Spot 3","kev":7.55,"val":0.015},{"spot":"Spot 3","kev":7.60,"val":0.02},{"spot":"Spot 3","kev":7.65,"val":0.015},{"spot":"Spot 3","kev":7.70,"val":0.02},{"spot":"Spot 3","kev":7.75,"val":0.03},{"spot":"Spot 3","kev":7.80,"val":0.05},{"spot":"Spot 3","kev":7.84,"val":0.12},{"spot":"Spot 3","kev":7.87,"val":0.3},{"spot":"Spot 3","kev":7.90,"val":0.5},{"spot":"Spot 3","kev":7.93,"val":0.62},{"spot":"Spot 3","kev":7.96,"val":0.7},{"spot":"Spot 3","kev":7.98,"val":0.715},{"spot":"Spot 3","kev":8.00,"val":0.65},{"spot":"Spot 3","kev":8.02,"val":0.6},{"spot":"Spot 3","kev":8.04,"val":0.45},{"spot":"Spot 3","kev":8.06,"val":0.33},{"spot":"Spot 3","kev":8.08,"val":0.2},{"spot":"Spot 3","kev":8.10,"val":0.12},{"spot":"Spot 3","kev":8.13,"val":0.06},{"spot":"Spot 3","kev":8.16,"val":0.03},{"spot":"Spot 3","kev":8.20,"val":0.02},{"spot":"Spot 3","kev":8.25,"val":0.015},{"spot":"Spot 3","kev":8.30,"val":0.02},{"spot":"Spot 3","kev":8.35,"val":0.01},{"spot":"Spot 3","kev":8.40,"val":0.015},{"spot":"Spot 3","kev":8.45,"val":0.02},{"spot":"Spot 3","kev":8.50,"val":0.015},{"spot":"Spot 3","kev":8.55,"val":0.02},{"spot":"Spot 3","kev":8.60,"val":0.015},{"spot":"Spot 3","kev":8.65,"val":0.025},{"spot":"Spot 3","kev":8.70,"val":0.04},{"spot":"Spot 3","kev":8.74,"val":0.06},{"spot":"Spot 3","kev":8.78,"val":0.09},{"spot":"Spot 3","kev":8.81,"val":0.1},{"spot":"Spot 3","kev":8.84,"val":0.13},{"spot":"Spot 3","kev":8.86,"val":0.14},{"spot":"Spot 3","kev":8.88,"val":0.12},{"spot":"Spot 3","kev":8.90,"val":0.11},{"spot":"Spot 3","kev":8.93,"val":0.08},{"spot":"Spot 3","kev":8.96,"val":0.05},{"spot":"Spot 3","kev":9.00,"val":0.03},{"spot":"Spot 3","kev":9.04,"val":0.015},{"spot":"Spot 3","kev":9.08,"val":0.01},{"spot":"Spot 3","kev":9.12,"val":0.005},{"spot":"Spot 3","kev":9.16,"val":0.01},{"spot":"Spot 3","kev":9.20,"val":0.005},{"spot":"Spot 3","kev":9.25,"val":0.008},{"spot":"Spot 3","kev":9.30,"val":0.005},{"spot":"Spot 3","kev":9.35,"val":0.01},{"spot":"Spot 3","kev":9.40,"val":0.005},{"spot":"Spot 3","kev":9.45,"val":0.008},{"spot":"Spot 3","kev":9.50,"val":0.005},{"spot":"Spot 3","kev":9.55,"val":0.01},{"spot":"Spot 3","kev":9.60,"val":0.005},{"spot":"Spot 3","kev":9.65,"val":0.01},{"spot":"Spot 3","kev":9.70,"val":0.006},{"spot":"Spot 3","kev":9.75,"val":0.01},{"spot":"Spot 3","kev":9.80,"val":0.005},{"spot":"Spot 3","kev":9.85,"val":0.01},{"spot":"Spot 3","kev":9.90,"val":0.008},{"spot":"Spot 3","kev":9.95,"val":0.01},{"spot":"Spot 3","kev":10.00,"val":0.012}
]
},
"vconcat":[
{"hconcat":[
{"vconcat":[
{"width":10,"height":1,"view":{"stroke":null},"data":{"values":[]},"mark":"point"},
{"width":347,"height":408,
"layer":[
{"data":{"name":"spectra"},"transform":[{"filter":"datum.spot == 'Spot 1'"}],"mark":{"type":"line","strokeWidth":1.1,"clip":true},
"encoding":{"x":{"field":"kev","type":"quantitative","scale":{"domain":[0,10],"nice":false},"axis":{"values":[0,2,4,6,8,10],"title":"X-ray Energy (keV)","titleX":165}},
"y":{"field":"val","type":"quantitative","scale":{"domain":[0,1],"nice":false},"axis":{"values":[0,0.2,0.4,0.6,0.8,1],"format":".1f","title":"Maximum Spot Intensity","titlePadding":4,"titleY":210}},
"stroke":{"field":"spot","type":"nominal","scale":{"range":["#111111"]},"legend":{"orient":"none","legendX":245,"legendY":46}}}},
{"data":{"name":"labels"},"transform":[{"filter":"datum.spot == 'Spot 1' && datum.kind == 'element'"}],"mark":{"type":"text","font":"Liberation Serif","fontSize":11,"color":"#222"},
"encoding":{"x":{"field":"kev","type":"quantitative"},"y":{"field":"val","type":"quantitative"},"text":{"field":"label"}}},
{"data":{"name":"labels"},"transform":[{"filter":"datum.spot == 'Spot 1' && datum.kind == 'condition'"}],"mark":{"type":"text","font":"Liberation Serif","fontSize":11,"fontWeight":"bold","color":"#222"},
"encoding":{"x":{"field":"kev","type":"quantitative"},"y":{"field":"val","type":"quantitative"},"text":{"field":"label"}}}
]}
],"spacing":0},
{"vconcat":[
{"width":10,"height":4,"view":{"stroke":null},"data":{"values":[]},"mark":"point"},
{"width":343,"height":405,
"layer":[
{"data":{"name":"spectra"},"transform":[{"filter":"datum.spot == 'Spot 2'"}],"mark":{"type":"line","strokeWidth":1.1,"clip":true,"interpolate":"step"},
"encoding":{"x":{"field":"kev","type":"quantitative","scale":{"domain":[0,10],"nice":false},"axis":{"values":[0,2,4,6,8,10],"title":"X-ray Energy (keV)","titleX":163}},
"y":{"field":"val","type":"quantitative","scale":{"domain":[0,1],"nice":false},"axis":{"values":[0,0.2,0.4,0.6,0.8,1],"format":".1f","title":"Maximum Spot Intensity","titlePadding":5,"titleY":210}},
"stroke":{"field":"spot","type":"nominal","scale":{"range":["#111111"]},"legend":{"orient":"none","legendX":239,"legendY":58}}}},
{"data":{"name":"labels"},"transform":[{"filter":"datum.spot == 'Spot 2' && datum.kind == 'element'"}],"mark":{"type":"text","font":"Liberation Serif","fontSize":11,"color":"#222"},
"encoding":{"x":{"field":"kev","type":"quantitative"},"y":{"field":"val","type":"quantitative"},"text":{"field":"label"}}},
{"data":{"name":"labels"},"transform":[{"filter":"datum.spot == 'Spot 2' && datum.kind == 'condition'"}],"mark":{"type":"text","font":"Liberation Serif","fontSize":11,"fontWeight":"bold","color":"#222"},
"encoding":{"x":{"field":"kev","type":"quantitative"},"y":{"field":"val","type":"quantitative"},"text":{"field":"label"}}}
]}
],"spacing":0},
{"vconcat":[
{"width":10,"height":13,"view":{"stroke":null},"data":{"values":[]},"mark":"point"},
{"width":336,"height":396,
"layer":[
{"data":{"name":"spectra"},"transform":[{"filter":"datum.spot == 'Spot 3'"}],"mark":{"type":"line","strokeWidth":1.1,"clip":true},
"encoding":{"x":{"field":"kev","type":"quantitative","scale":{"domain":[0,10],"nice":false},"axis":{"values":[0,2,4,6,8,10],"title":"X-ray Energy (keV)","titleX":159}},
"y":{"field":"val","type":"quantitative","scale":{"domain":[0,1],"nice":false},"axis":{"values":[0,0.2,0.4,0.6,0.8,1],"format":".1f","title":"Maximum Spot Intensity","titlePadding":8,"titleY":205}},
"stroke":{"field":"spot","type":"nominal","scale":{"range":["#111111"]},"legend":{"orient":"none","legendX":234,"legendY":66}}}},
{"data":{"name":"labels"},"transform":[{"filter":"datum.spot == 'Spot 3' && datum.kind == 'element'"}],"mark":{"type":"text","font":"Liberation Serif","fontSize":11,"color":"#222"},
"encoding":{"x":{"field":"kev","type":"quantitative"},"y":{"field":"val","type":"quantitative"},"text":{"field":"label"}}},
{"data":{"name":"labels"},"transform":[{"filter":"datum.spot == 'Spot 3' && datum.kind == 'condition'"}],"mark":{"type":"text","font":"Liberation Serif","fontSize":11,"fontWeight":"bold","color":"#222"},
"encoding":{"x":{"field":"kev","type":"quantitative"},"y":{"field":"val","type":"quantitative"},"text":{"field":"label"}}}
]}
],"spacing":0}
],"spacing":39,"resolve":{"scale":{"stroke":"independent"},"legend":{"stroke":"independent"}}},
{"width":1240,"height":29,"view":{"stroke":null},
"data":{"name":"caption"},
"layer":[
{"transform":[{"filter":"datum.part == 'bold'"}],"mark":{"type":"text","align":"left","baseline":"middle","font":"Roboto","fontSize":17.5,"fontWeight":"bold","color":"#1a1a1a"},
"encoding":{"x":{"datum":-0.0339,"type":"quantitative","scale":{"domain":[0,1]},"axis":null},"y":{"datum":1,"type":"quantitative","scale":{"domain":[0,1]},"axis":null},"text":{"field":"text"}}},
{"transform":[{"filter":"datum.part == 'normal'"}],"mark":{"type":"text","align":"left","baseline":"middle","font":"Roboto","fontSize":17.5,"color":"#1a1a1a"},
"encoding":{"x":{"datum":0.5895,"type":"quantitative"},"y":{"datum":1,"type":"quantitative"},"text":{"field":"text"}}},
{"transform":[{"filter":"datum.part == 'normal2'"}],"mark":{"type":"text","align":"left","baseline":"middle","font":"Roboto","fontSize":17.5,"color":"#1a1a1a"},
"encoding":{"x":{"datum":-0.0339,"type":"quantitative"},"y":{"datum":0,"type":"quantitative"},"text":{"field":"text"}}}
]}
],
"spacing":16
}
